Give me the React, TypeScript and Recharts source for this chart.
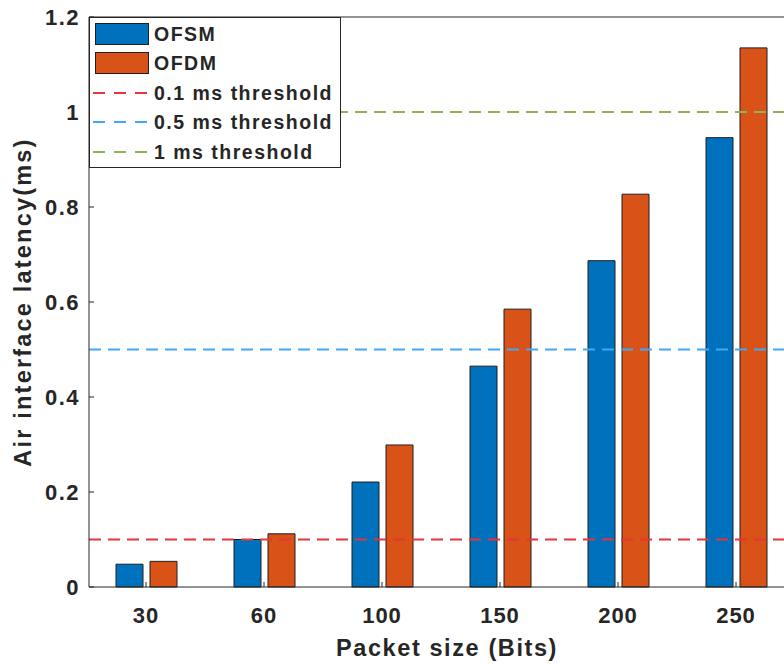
import { Bar, BarChart, ReferenceLine, XAxis, YAxis } from 'recharts'

const packetSizes = ['30', '60', '100', '150', '200', '250']
const ofsmLatency = [0.048, 0.1, 0.221, 0.465, 0.687, 0.946]
const ofdmLatency = [0.054, 0.112, 0.299, 0.585, 0.827, 1.135]
const yTicks = [0, 0.2, 0.4, 0.6, 0.8, 1, 1.2]
const seriesNames = ['OFSM', 'OFDM']
const thresholds = [0.1, 0.5, 1]
const thresholdNames = ['0.1 ms threshold', '0.5 ms threshold', '1 ms threshold']

const barColors = ['#0072bd', '#d95319']
const lineColors = ['#e8333b', '#3fa9f5', '#8db356']
const ink = '#262626'
const font = '"Liberation Sans", Arial, Helvetica, sans-serif'

const data = packetSizes.map((size, i) => ({
  size,
  ofsm: ofsmLatency[i],
  ofdm: ofdmLatency[i],
}))

function XTitle(props: any) {
  const vb = props.viewBox
  return (
    <text
      x={447}
      y={vb.y + vb.height - 10}
      textAnchor="middle"
      fill={ink}
      fontFamily={font}
      fontWeight={700}
      fontSize={23.5}
      letterSpacing={1.6}
    >
      Packet size (Bits)
    </text>
  )
}

function YTitle(props: any) {
  const vb = props.viewBox
  const cx = 31
  const cy = vb.y + vb.height / 2
  return (
    <text
      x={cx}
      y={cy}
      transform={`rotate(-90 ${cx} ${cy})`}
      textAnchor="middle"
      fill={ink}
      fontFamily={font}
      fontWeight={700}
      fontSize={23.5}
      letterSpacing={2.2}
    >
      Air interface latency(ms)
    </text>
  )
}

function LegendBox() {
  const rows = [
    ...seriesNames.map((name, i) => ({ name, kind: 'bar', color: barColors[i] })),
    ...thresholdNames.map((name, i) => ({ name, kind: 'line', color: lineColors[i] })),
  ]
  return (
    <div
      style={{
        position: 'absolute',
        left: 89,
        top: 17,
        width: 252,
        height: 151,
        boxSizing: 'border-box',
        border: `1px solid ${ink}`,
        background: '#fff',
        fontFamily: font,
        fontWeight: 700,
        fontSize: 19.5,
        letterSpacing: 1.5,
        color: ink,
      }}
    >
      {rows.map((row, i) => (
        <div
          key={row.name}
          style={{
            position: 'absolute',
            left: 3,
            top: 4 + i * 29.4,
            height: 24,
            display: 'flex',
            alignItems: 'center',
            whiteSpace: 'nowrap',
          }}
        >
          {row.kind === 'bar' ? (
            <div
              style={{
                width: 54,
                height: 22,
                marginLeft: 2,
                boxSizing: 'border-box',
                background: row.color,
                border: '1px solid #1f1f1f',
              }}
            />
          ) : (
            <svg width={56} height={24} style={{ display: 'block' }}>
              <line x1={0} x2={56} y1={12} y2={12} stroke={row.color} strokeWidth={2} strokeDasharray="12 9" />
            </svg>
          )}
          <span style={{ marginLeft: 5, lineHeight: '24px' }}>{row.name}</span>
        </div>
      ))}
    </div>
  )
}

export default function App() {
  return (
    <div
      style={{
        position: 'absolute',
        left: 0,
        top: 0,
        width: 784,
        height: 666,
        overflow: 'hidden',
        background: '#fff',
      }}
    >
      <BarChart
        width={795}
        height={666}
        data={data}
        margin={{ top: 0, right: 0, bottom: 0, left: 0 }}
        barSize={27}
        barGap={7}
      >
        <XAxis
          dataKey="size"
          height={79}
          padding={{ left: -2, right: 0 }}
          tickSize={-5}
          tickMargin={25}
          stroke={ink}
          tick={{ fill: ink, fontSize: 22, fontWeight: 700, fontFamily: font, letterSpacing: 1 }}
          label={<XTitle />}
        />
        <XAxis
          xAxisId="top"
          orientation="top"
          dataKey="size"
          height={17}
          padding={{ left: -2, right: 0 }}
          tickSize={-5}
          tick={false}
          stroke={ink}
        />
        <YAxis
          width={89}
          domain={[0, 1.2]}
          ticks={yTicks}
          interval={0}
          tickSize={-5}
          tickMargin={14}
          stroke={ink}
          tick={{ fill: ink, fontSize: 22, fontWeight: 700, fontFamily: font, letterSpacing: 1.5 }}
          label={<YTitle />}
        />
        <Bar dataKey="ofsm" name={seriesNames[0]} fill={barColors[0]} stroke="#1f1f1f" strokeWidth={1} isAnimationActive={false} />
        <Bar dataKey="ofdm" name={seriesNames[1]} fill={barColors[1]} stroke="#1f1f1f" strokeWidth={1} isAnimationActive={false} />
        {thresholds.map((t, i) => (
          <ReferenceLine
            key={t}
            y={t}
            stroke={lineColors[i]}
            strokeWidth={2}
            strokeDasharray="12 7"
          />
        ))}
      </BarChart>
      <LegendBox />
    </div>
  )
}
